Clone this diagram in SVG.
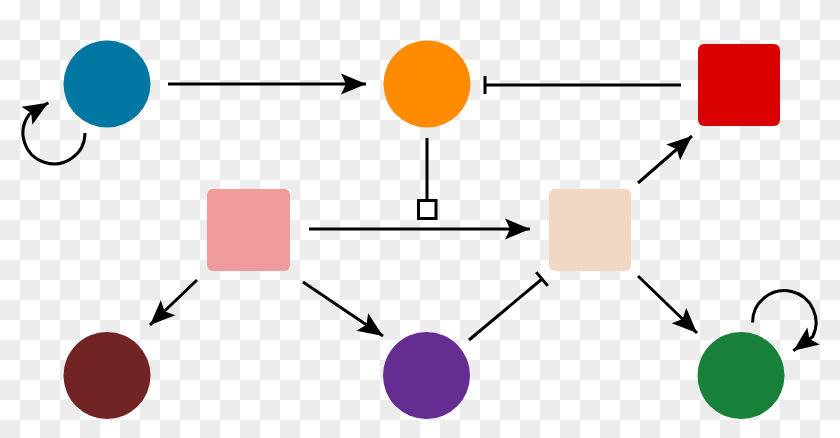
<svg xmlns="http://www.w3.org/2000/svg" width="840" height="438" viewBox="0 0 840 438">
<defs>
<pattern id="checker" x="0" y="0" width="40" height="40" patternUnits="userSpaceOnUse">
<rect x="0" y="0" width="40" height="40" fill="#ffffff"/>
<rect x="20" y="0" width="20" height="20" fill="#ececec"/>
<rect x="0" y="20" width="20" height="20" fill="#ececec"/>
</pattern>
<marker id="arrow" markerUnits="userSpaceOnUse" markerWidth="26" markerHeight="22" refX="25" refY="11" orient="auto" overflow="visible">
<path d="M0,0.5 L25,11 L0,21.5 L5,11 Z" fill="#000"/>
</marker>
<marker id="bar" markerUnits="userSpaceOnUse" markerWidth="6" markerHeight="22" refX="1.5" refY="11" orient="auto" overflow="visible">
<path d="M1.5,2 L1.5,20" stroke="#000" stroke-width="3" fill="none"/>
</marker>
</defs>
<style>
.edge{fill:none;stroke:#000;stroke-width:3}
.act{marker-end:url(#arrow)}
.inh{marker-end:url(#bar)}
.sq{rx:6;ry:6}
</style>
<rect x="0" y="0" width="840" height="438" fill="url(#checker)"/>
<g id="connectors">
<path class="edge act" d="M168,84 L366,84"/>
<path class="edge inh" d="M681,85 L485,85"/>
<path class="edge" d="M427,138 L427,200"/>
<rect x="418.5" y="200.5" width="17.5" height="18" fill="#fff" stroke="#000" stroke-width="3"/>
<path class="edge act" d="M309,229 L530,229"/>
<path class="edge act" d="M638,183 L692,136"/>
<path class="edge act" d="M638,276 L697,333"/>
<path class="edge act" d="M197,280 L150,325"/>
<path class="edge act" d="M303,282 L383,336"/>
<path class="edge inh" d="M469,340 L542,279"/>
<path class="edge act" d="M85,133 A31,31 0 1 1 29.2,114.3 L48.3,102.7"/>
<path class="edge act" d="M752.6,322.4 A31.7,31.7 0 1 1 812.6,336.7 L793.3,350.7"/>
</g>
<g id="n_blue"><circle cx="107" cy="84" r="43.5" fill="#0077a3"/></g>
<g id="n_orange"><circle cx="427" cy="84" r="43.5" fill="#ff8c00"/></g>
<g id="n_red"><rect class="sq" x="698" y="44" width="82" height="82" fill="#d90000"/></g>
<g id="n_pink"><rect class="sq" x="207" y="189" width="83" height="82" fill="#f09b9b"/></g>
<g id="n_peach"><rect class="sq" x="549" y="189" width="82" height="82" fill="#f2d8c2"/></g>
<g id="n_darkred"><circle cx="107" cy="375.5" r="43.5" fill="#722323"/></g>
<g id="n_purple"><circle cx="426.5" cy="375.5" r="43.5" fill="#652d91"/></g>
<g id="n_green"><circle cx="741" cy="375.5" r="43.5" fill="#178039"/></g>
</svg>
